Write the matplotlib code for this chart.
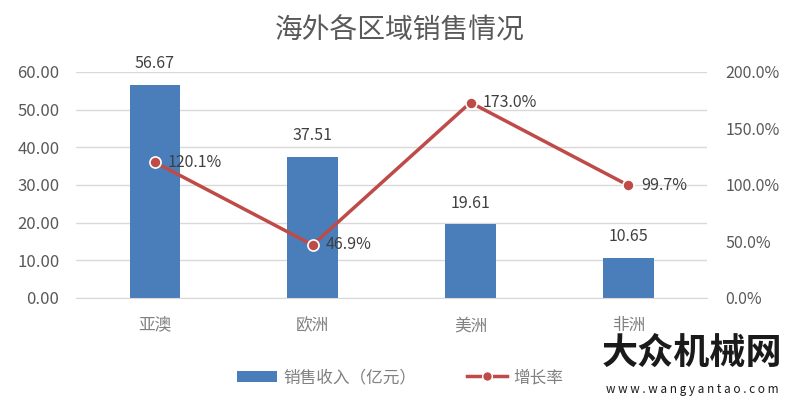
import matplotlib
import matplotlib.pyplot as plt
from matplotlib.lines import Line2D
from matplotlib.patches import Patch

matplotlib.use('Agg')
plt.rcParams['font.family'] = ['Noto Sans CJK SC', 'DejaVu Sans']

regions = ['亚澳', '欧洲', '美洲', '非洲']
revenue = [56.67, 37.51, 19.61, 10.65]
growth = [120.1, 46.9, 173.0, 99.7]
left_ticks = [0, 10, 20, 30, 40, 50, 60]
right_ticks = [0, 50, 100, 150, 200]

bar_color = '#4A7EBB'
line_color = '#BE4B48'
text_color = '#595959'
light_text = '#808080'

fig = plt.figure(figsize=(8, 4.04), dpi=100)
ax = fig.add_axes([0.095, 0.2624, 0.789, 0.5594])
x = list(range(len(regions)))

ax.bar(x, revenue, width=0.32, color=bar_color, zorder=2)
ax.set_xlim(-0.5, 3.5)
ax.set_ylim(0, 60)
ax.set_yticks(left_ticks)
ax.set_yticklabels(['%.2f' % v for v in left_ticks], fontsize=12, color=text_color)
ax.set_xticks(x)
ax.set_xticklabels(regions, fontsize=12, color=light_text)
ax.tick_params(axis='x', length=0, pad=14)
ax.tick_params(axis='y', length=0, pad=12)
ax.grid(axis='y', color='#D9D9D9', linewidth=1, zorder=0)
for s in ax.spines.values():
    s.set_visible(False)
ax.spines['bottom'].set_visible(True)
ax.spines['bottom'].set_color('#D9D9D9')
for i, v in enumerate(revenue):
    ax.annotate('%.2f' % v, (i, v), xytext=(0, 9), textcoords='offset points',
                ha='center', va='bottom', fontsize=11.5, color='#404040')

ax2 = ax.twinx()
ax2.plot(x, growth, '-o', color=line_color, linewidth=2.5, markersize=8,
         markerfacecolor=line_color, markeredgecolor='white', markeredgewidth=1.2, zorder=3)
ax2.set_ylim(0, 200)
ax2.set_yticks(right_ticks)
ax2.set_yticklabels(['%.1f%%' % v for v in right_ticks], fontsize=11.5, color=text_color)
ax2.tick_params(axis='y', length=0, pad=13)
for s in ax2.spines.values():
    s.set_visible(False)
for i, v in enumerate(growth):
    ax2.annotate('%.1f%%' % v, (i, v), xytext=(9, 0), textcoords='offset points',
                 ha='left', va='center', fontsize=11.5, color='#404040')

fig.text(0.5, 0.925, '海外各区域销售情况', ha='center', va='center', fontsize=20, color=text_color)

handles = [Patch(facecolor=bar_color, label='销售收入（亿元）'),
           Line2D([0], [0], color=line_color, linewidth=2.5, marker='o', markersize=7,
                  markeredgecolor='white', label='增长率')]
fig.legend(handles=handles, loc='center', bbox_to_anchor=(0.5, 0.065), ncol=2, frameon=False,
           fontsize=12, labelcolor=light_text, handlelength=2.4, columnspacing=3, handletextpad=0.4)

# watermark
fig.text(0.865, 0.125, '大众机械网', ha='center', va='center', fontsize=26, fontweight='bold',
         color='#1a1a1a', zorder=11)
fig.text(0.865, 0.035, 'w w w . w a n g y a n t a o . c o m', ha='center', va='center', fontsize=8.5,
         color='#1a1a1a', zorder=11)

fig.savefig('out.png', dpi=100)
